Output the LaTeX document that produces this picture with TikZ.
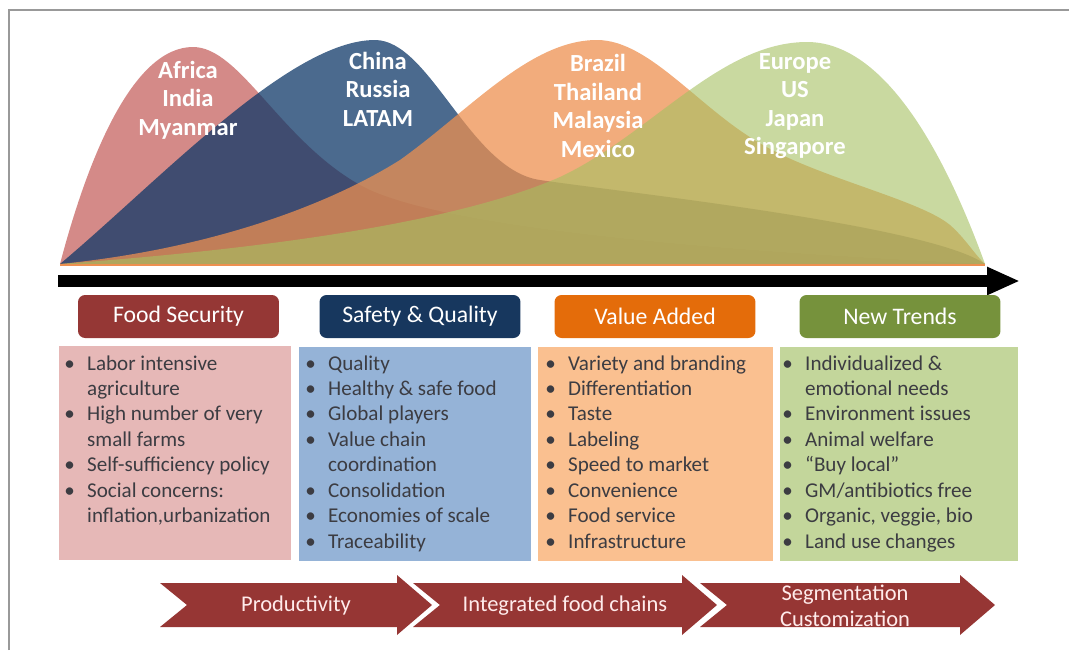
\documentclass[tikz,border=0pt]{standalone}
\usepackage{fontspec}
\setmainfont{Carlito}
\usetikzlibrary{arrows.meta}

\definecolor{fsred}{RGB}{149,55,53}
\definecolor{sqblue}{RGB}{23,55,94}
\definecolor{vaorange}{RGB}{228,108,10}
\definecolor{ntgreen}{RGB}{118,146,60}
\definecolor{fslight}{RGB}{230,184,183}
\definecolor{sqlight}{RGB}{149,179,215}
\definecolor{valight}{RGB}{250,192,144}
\definecolor{ntlight}{RGB}{195,214,155}
\definecolor{curvered}{RGB}{197,99,96}
\definecolor{curveblue}{RGB}{15,56,104}
\definecolor{curveorange}{RGB}{237,144,80}
\definecolor{curvegreen}{RGB}{165,192,97}
\definecolor{chevred}{RGB}{150,54,52}
\definecolor{bodytext}{RGB}{60,60,66}

\newcommand{\itm}{\makebox[13pt][l]{\textbullet}}
\newcommand{\cnt}{\hspace*{13pt}}

\begin{document}
\begin{tikzpicture}[x=0.02cm, y=-0.02cm,
    region/.style={font=\bfseries\fontsize{14}{16.2}\selectfont, text=white, align=center, inner sep=0pt},
    headbox/.style={rounded corners=4pt, minimum width=4.02cm, minimum height=0.86cm, text=white, font=\fontsize{13.5}{15}\selectfont, inner sep=0pt},
    items/.style={anchor=north west, align=left, inner sep=0pt, text=bodytext, font=\fontsize{12}{14.5}\selectfont},
    chevlabel/.style={text=white!92!red, align=center, font=\fontsize{12.8}{14.5}\selectfont, inner sep=0pt}]
    \useasboundingbox (0,0) rectangle (1069,650);
    \draw[gray!80, line width=1pt] (9,650) -- (9,10) -- (1069,10);

    % curves
    \fill[curvered, fill opacity=0.75] (60,264) .. controls (90,150) and (135,47) .. (193,47)
        .. controls (240,47) and (280,140) .. (360,185)
        .. controls (450,235) and (800,255) .. (985,264) -- cycle;
    \fill[curveblue, fill opacity=0.75] (60,264) .. controls (160,180) and (290,40) .. (375,40)
        .. controls (430,40) and (470,170) .. (540,180)
        .. controls (620,192) and (930,225) .. (985,264) -- cycle;
    \fill[curveorange, fill opacity=0.75] (60,264) .. controls (200,250) and (320,210) .. (400,160)
        .. controls (470,110) and (530,40) .. (597,40)
        .. controls (650,40) and (700,110) .. (763,145)
        .. controls (820,178) and (920,200) .. (950,225)
        .. controls (965,238) and (975,255) .. (985,264) -- cycle;
    \fill[curvegreen, fill opacity=0.6] (60,264) .. controls (250,250) and (450,225) .. (560,177)
        .. controls (650,135) and (720,42) .. (807,42)
        .. controls (880,42) and (940,140) .. (985,264) -- cycle;
    \draw[curveorange, line width=1pt] (60,265) -- (985,265);

    \node[region] (asia) at (188,100) {Africa\\India\\Myanmar};
    \node[region] (china) at (378,89) {China\\Russia\\LATAM};
    \node[region] (brazil) at (598,106) {Brazil\\Thailand\\Malaysia\\Mexico};
    \node[region] (europe) at (795,106) {Europe\\US\\Japan\\Singapore};

    % time axis
    \coordinate (axisL) at (58,281);
    \coordinate (axisR) at (1020,281);
    \draw[line width=0.24cm, -{Triangle[length=0.66cm, width=0.52cm]}] (axisL) -- (axisR);

    % headers
    \node[headbox, fill=fsred] (fs) at (178.5,316.5) {Food Security};
    \node[headbox, fill=sqblue] (sq) at (420,316.5) {Safety \& Quality};
    \node[headbox, fill=vaorange] (va) at (655,316.5) {Value Added};
    \node[headbox, fill=ntgreen] (nt) at (900,316.5) {New Trends};

    % lists
    \fill[fslight] (59,346) rectangle (291,560);
    \fill[sqlight] (299,347) rectangle (531,561);
    \fill[valight] (538,347) rectangle (773,561);
    \fill[ntlight] (780,347) rectangle (1018,561);

    \node[items] (fslist) at (64,355) {\itm Labor intensive\\ \cnt agriculture\\ \itm High number of very\\ \cnt small farms\\
        \itm Self-sufficiency policy\\ \itm Social concerns:\\ \cnt inflation,urbanization};
    \node[items] (sqlist) at (305,355) {\itm Quality\\ \itm Healthy \& safe food\\ \itm Global players\\ \itm Value chain\\
        \cnt coordination\\ \itm Consolidation\\ \itm Economies of scale\\ \itm Traceability};
    \node[items] (valist) at (545,355) {\itm Variety and branding\\ \itm Differentiation\\ \itm Taste\\ \itm Labeling\\
        \itm Speed to market\\ \itm Convenience\\ \itm Food service\\ \itm Infrastructure};
    \node[items] (ntlist) at (782,355) {\itm Individualized \&\\ \cnt emotional needs\\ \itm Environment issues\\ \itm Animal welfare\\
        \itm “Buy local”\\ \itm GM/antibiotics free\\ \itm Organic, veggie, bio\\ \itm Land use changes};

    % chevrons
    \foreach \xa/\xb in {160/397, 413/682, 700/960}
        \fill[chevred] (\xa,583) -- (\xb,583) -- (\xb,575) -- (\xb+35,605) -- (\xb,635) -- (\xb,627)
            -- (\xa,627) -- (\xa+27,605) -- cycle;
    \node[chevlabel] (prod) at (296,605) {Productivity};
    \node[chevlabel] (chains) at (565,606) {Integrated food chains};
    \node[chevlabel] (segm) at (845,606) {Segmentation\\Customization};
\end{tikzpicture}
\end{document}
